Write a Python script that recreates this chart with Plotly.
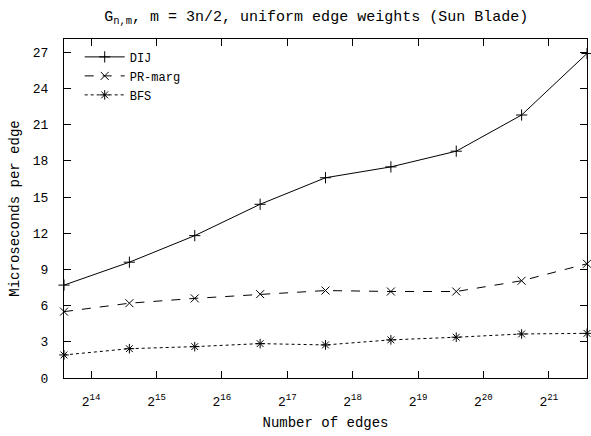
import math
import plotly.graph_objects as go

# Data
edges = [12288, 24576, 49152, 98304, 196608, 393216, 786432, 1572864, 3145728]
dij = [7.7, 9.6, 11.8, 14.4, 16.6, 17.5, 18.8, 21.8, 26.9]
pr_marg = [5.5, 6.2, 6.6, 6.95, 7.25, 7.17, 7.17, 8.06, 9.47]
bfs = [1.91, 2.43, 2.6, 2.85, 2.74, 3.16, 3.38, 3.65, 3.7]

x_tick_exps = [14, 15, 16, 17, 18, 19, 20, 21]
y_ticks = [0, 3, 6, 9, 12, 15, 18, 21, 24, 27]

FONT = "Liberation Mono"

fig = go.Figure()
series = [
    ("DIJ", dij, "solid", "cross-thin"),
    ("PR-marg", pr_marg, "dash", "x-thin"),
    ("BFS", bfs, "dot", "asterisk"),
]
for name, vals, dash, sym in series:
    fig.add_trace(go.Scatter(
        x=edges, y=vals, name=name, mode="lines+markers",
        line=dict(color="black", width=1, dash=dash),
        marker=dict(symbol=sym, size=8, color="black",
                    line=dict(color="black", width=1)),
        cliponaxis=False,
    ))

fig.update_layout(
    width=591, height=436,
    margin=dict(l=64, r=4, t=39, b=58),
    paper_bgcolor="white", plot_bgcolor="white",
    font=dict(family=FONT, size=13, color="black"),
    title=dict(text="G<sub>n,m</sub>, m = 3n/2, uniform edge weights (Sun Blade)",
               x=0.535, xanchor="center", y=0.965, yanchor="middle",
               font=dict(family=FONT, size=15)),
    showlegend=True,
    legend=dict(x=0.03, y=0.99, xanchor="left", yanchor="top",
                bgcolor="rgba(0,0,0,0)", font=dict(family=FONT, size=12),
                tracegroupgap=0, itemwidth=40),
)
fig.update_xaxes(
    type="log",
    range=[math.log10(edges[0]), math.log10(edges[-1])],
    tickvals=[2 ** e for e in x_tick_exps],
    ticktext=[f"2<sup>{e}</sup>" for e in x_tick_exps],
    ticks="inside", ticklen=7, tickcolor="black",
    ticklabelstandoff=11,
    showline=True, linecolor="black", linewidth=1, mirror="ticks",
    showgrid=False, zeroline=False,
    title=dict(text="Number of edges", standoff=8, font=dict(size=14)),
)
fig.update_yaxes(
    range=[0, 28.1],
    tickvals=y_ticks,
    ticks="inside", ticklen=7, tickcolor="black",
    ticklabelstandoff=12,
    showline=True, linecolor="black", linewidth=1, mirror="ticks",
    showgrid=False, zeroline=False,
    title=dict(text="Microseconds per edge", standoff=9, font=dict(size=14)),
)
fig.write_html("out.html", config={"displayModeBar": False},
               post_script="document.body.style.margin='0';")
